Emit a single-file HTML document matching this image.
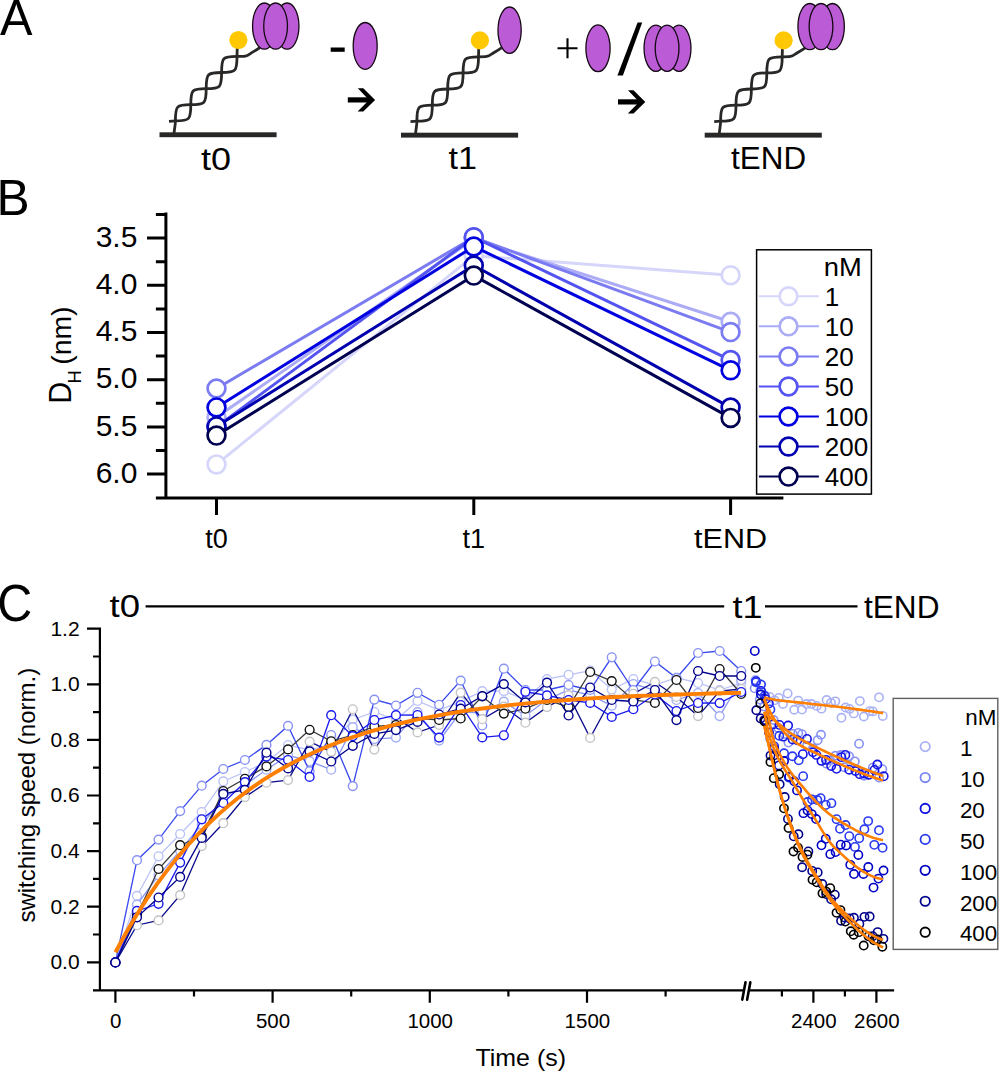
<!DOCTYPE html>
<html><head><meta charset="utf-8"><title>Figure</title>
<style>html,body{margin:0;padding:0;background:#fff;}svg{display:block;}text{font-family:"Liberation Sans",sans-serif;fill:#000;}</style>
</head><body>
<svg width="999" height="1072" viewBox="0 0 999 1072">
<rect width="999" height="1072" fill="#fff"/>
<text x="0" y="34.6" font-size="49.7" text-anchor="start" textLength="32.5" lengthAdjust="spacingAndGlyphs">A</text>
<path d="M174,134 C174.4,128 175.4,125.8 175.4,120.8 C175.4,105.83 176.48,104.7 190.8,104.7 C205.12,104.7 206.2,103.57 206.2,88.6 C206.2,73.63 207.28,72.5 221.6,72.5 C235.92,72.5 237,71.37 237,56.4 L237.3,46" fill="none" stroke="#292827" stroke-width="2.8"/>
<path d="M169,121.3 L175.4,120.8 C189.72,120.8 190.8,119.67 190.8,104.7 C190.8,89.73 191.88,88.6 206.2,88.6 C220.52,88.6 221.6,87.47 221.6,72.5 C221.6,57.53 222.68,56.4 237,56.4 C245,56.4 246,56.5 250,53.8 C252.5,52 255,51 260,47.5" fill="none" stroke="#292827" stroke-width="2.8"/>
<rect x="159.5" y="132.3" width="117.1" height="4.9" fill="#292827"/>
<circle cx="238.4" cy="40" r="9.1" fill="#FFC800"/>
<ellipse cx="264.4" cy="26.1" rx="11.85" ry="23.1" fill="#BB5BD5" stroke="#140814" stroke-width="1.3"/><ellipse cx="287.1" cy="26.1" rx="11.85" ry="23.1" fill="#BB5BD5" stroke="#140814" stroke-width="1.3"/><ellipse cx="275.6" cy="26.1" rx="11.85" ry="23.1" fill="#BB5BD5" stroke="#140814" stroke-width="1.3"/>
<path d="M415.5,134.4 C415.9,128.4 416.9,126.2 416.9,121.2 C416.9,106.23 417.98,105.1 432.3,105.1 C446.62,105.1 447.7,103.97 447.7,89 C447.7,74.03 448.78,72.9 463.1,72.9 C477.42,72.9 478.5,71.77 478.5,56.8 L478.8,46.4" fill="none" stroke="#292827" stroke-width="2.8"/>
<path d="M410.5,121.7 L416.9,121.2 C431.22,121.2 432.3,120.07 432.3,105.1 C432.3,90.13 433.38,89 447.7,89 C462.02,89 463.1,87.87 463.1,72.9 C463.1,57.93 464.18,56.8 478.5,56.8 C486.5,56.8 487.5,56.9 491.5,54.2 C494,52.4 496.5,51.4 501.5,47.9" fill="none" stroke="#292827" stroke-width="2.8"/>
<rect x="401" y="132.7" width="117.1" height="4.9" fill="#292827"/>
<circle cx="479.9" cy="40.4" r="9.1" fill="#FFC800"/>
<ellipse cx="509.6" cy="30.2" rx="11.6" ry="23.2" fill="#BB5BD5" stroke="#140814" stroke-width="1.3"/>
<path d="M719.2,134.4 C719.6,128.4 720.6,126.2 720.6,121.2 C720.6,106.23 721.68,105.1 736,105.1 C750.32,105.1 751.4,103.97 751.4,89 C751.4,74.03 752.48,72.9 766.8,72.9 C781.12,72.9 782.2,71.77 782.2,56.8 L782.5,46.4" fill="none" stroke="#292827" stroke-width="2.8"/>
<path d="M714.2,121.7 L720.6,121.2 C734.92,121.2 736,120.07 736,105.1 C736,90.13 737.08,89 751.4,89 C765.72,89 766.8,87.87 766.8,72.9 C766.8,57.93 767.88,56.8 782.2,56.8 C790.2,56.8 791.2,56.9 795.2,54.2 C797.7,52.4 800.2,51.4 805.2,47.9" fill="none" stroke="#292827" stroke-width="2.8"/>
<rect x="704.7" y="132.7" width="117.1" height="4.9" fill="#292827"/>
<circle cx="783.6" cy="40.4" r="9.1" fill="#FFC800"/>
<ellipse cx="809.8" cy="26.6" rx="11.85" ry="23.1" fill="#BB5BD5" stroke="#140814" stroke-width="1.3"/><ellipse cx="832.5" cy="26.6" rx="11.85" ry="23.1" fill="#BB5BD5" stroke="#140814" stroke-width="1.3"/><ellipse cx="821" cy="26.6" rx="11.85" ry="23.1" fill="#BB5BD5" stroke="#140814" stroke-width="1.3"/>
<rect x="330.7" y="47.5" width="14" height="4.3" fill="#000"/>
<ellipse cx="365.2" cy="45.9" rx="12" ry="23.4" fill="#BB5BD5" stroke="#140814" stroke-width="1.3"/>
<rect x="347.8" y="97.3" width="22" height="5.2" fill="#000"/><polygon points="357.8,88.3 363.3,88.3 375.1,100 363.3,111.6 357.6,111.6 369,100" fill="#000"/>
<path d="M557.5,48.3H577.5M567.5,38.3V58.3" stroke="#000" stroke-width="2.1"/>
<ellipse cx="598" cy="48.3" rx="12.1" ry="23.4" fill="#BB5BD5" stroke="#140814" stroke-width="1.3"/>
<polygon points="637.6,22.6 642.2,22.6 622.9,75.5 617.4,75.5" fill="#000"/>
<ellipse cx="655.9" cy="48.3" rx="11.85" ry="23.1" fill="#BB5BD5" stroke="#140814" stroke-width="1.3"/><ellipse cx="679.1" cy="48.3" rx="11.85" ry="23.1" fill="#BB5BD5" stroke="#140814" stroke-width="1.3"/><ellipse cx="667.1" cy="48.3" rx="11.85" ry="23.1" fill="#BB5BD5" stroke="#140814" stroke-width="1.3"/>
<rect x="618" y="99.3" width="22" height="5.2" fill="#000"/><polygon points="628,90.3 633.5,90.3 645.3,102 633.5,113.6 627.8,113.6 639.2,102" fill="#000"/>
<text x="201" y="169.5" font-size="31.5" text-anchor="start" textLength="30" lengthAdjust="spacingAndGlyphs">t0</text>
<text x="448.4" y="169" font-size="31.5" text-anchor="start" textLength="28.5" lengthAdjust="spacingAndGlyphs">t1</text>
<text x="731.1" y="169" font-size="31.5" text-anchor="start" textLength="75" lengthAdjust="spacingAndGlyphs">tEND</text>
<text x="-3.6" y="215.3" font-size="49.7" text-anchor="start" >B</text>
<path d="M165.9,212.6V499.4M155.9,498H783.4" stroke="#000" stroke-width="3" fill="none"/>
<path d="M147,238.1H165.9M147,285.3H165.9M147,332.5H165.9M147,379.7H165.9M147,426.9H165.9M147,474.1H165.9M155.9,214.5H165.9M155.9,261.7H165.9M155.9,308.9H165.9M155.9,356.1H165.9M155.9,403.3H165.9M155.9,450.5H165.9M216.5,498V515M473.8,498V515M730.6,498V515" stroke="#000" stroke-width="3" fill="none"/>
<text x="137.4" y="246.7" font-size="30" text-anchor="end" >3.5</text>
<text x="137.4" y="293.9" font-size="30" text-anchor="end" >4.0</text>
<text x="137.4" y="341.1" font-size="30" text-anchor="end" >4.5</text>
<text x="137.4" y="388.3" font-size="30" text-anchor="end" >5.0</text>
<text x="137.4" y="435.5" font-size="30" text-anchor="end" >5.5</text>
<text x="137.4" y="482.7" font-size="30" text-anchor="end" >6.0</text>
<text x="216.5" y="547.8" font-size="27" text-anchor="middle" >t0</text>
<text x="473.8" y="547.8" font-size="27" text-anchor="middle" >t1</text>
<text x="730.6" y="547.8" font-size="27" text-anchor="middle" textLength="73" lengthAdjust="spacingAndGlyphs">tEND</text>
<g transform="translate(70.6,0) rotate(-90)"><text x="-403.8" y="0" font-size="30.5">D</text><text x="-383.6" y="10.2" font-size="18.5">H</text><text x="-364.8" y="0" font-size="28.4">(nm)</text></g>
<polyline points="216.5,464.4 473.8,255.7 730.6,275.2" fill="none" stroke="#D6D6FA" stroke-width="3"/>
<circle cx="216.5" cy="464.4" r="8.9" fill="#fff" stroke="#D6D6FA" stroke-width="2.7"/>
<circle cx="473.8" cy="255.7" r="8.9" fill="#fff" stroke="#D6D6FA" stroke-width="2.7"/>
<circle cx="730.6" cy="275.2" r="8.9" fill="#fff" stroke="#D6D6FA" stroke-width="2.7"/>
<polyline points="216.5,417.2 473.8,239 730.6,321.8" fill="none" stroke="#ABABF6" stroke-width="3"/>
<circle cx="216.5" cy="417.2" r="8.9" fill="#fff" stroke="#ABABF6" stroke-width="2.7"/>
<circle cx="473.8" cy="239" r="8.9" fill="#fff" stroke="#ABABF6" stroke-width="2.7"/>
<circle cx="730.6" cy="321.8" r="8.9" fill="#fff" stroke="#ABABF6" stroke-width="2.7"/>
<polyline points="216.5,388.5 473.8,237.4 730.6,332.1" fill="none" stroke="#7C7CF2" stroke-width="3"/>
<circle cx="216.5" cy="388.5" r="8.9" fill="#fff" stroke="#7C7CF2" stroke-width="2.7"/>
<circle cx="473.8" cy="237.4" r="8.9" fill="#fff" stroke="#7C7CF2" stroke-width="2.7"/>
<circle cx="730.6" cy="332.1" r="8.9" fill="#fff" stroke="#7C7CF2" stroke-width="2.7"/>
<polyline points="216.5,426.9 473.8,237.2 730.6,360.1" fill="none" stroke="#5454F0" stroke-width="3"/>
<circle cx="216.5" cy="426.9" r="8.9" fill="#fff" stroke="#5454F0" stroke-width="2.7"/>
<circle cx="473.8" cy="237.2" r="8.9" fill="#fff" stroke="#5454F0" stroke-width="2.7"/>
<circle cx="730.6" cy="360.1" r="8.9" fill="#fff" stroke="#5454F0" stroke-width="2.7"/>
<polyline points="216.5,407.4 473.8,246.5 730.6,370.3" fill="none" stroke="#0000E0" stroke-width="3"/>
<circle cx="216.5" cy="407.4" r="8.9" fill="#fff" stroke="#0000E0" stroke-width="2.7"/>
<circle cx="473.8" cy="246.5" r="8.9" fill="#fff" stroke="#0000E0" stroke-width="2.7"/>
<circle cx="730.6" cy="370.3" r="8.9" fill="#fff" stroke="#0000E0" stroke-width="2.7"/>
<polyline points="216.5,426.4 473.8,265.5 730.6,407.6" fill="none" stroke="#0000B0" stroke-width="3"/>
<circle cx="216.5" cy="426.4" r="8.9" fill="#fff" stroke="#0000B0" stroke-width="2.7"/>
<circle cx="473.8" cy="265.5" r="8.9" fill="#fff" stroke="#0000B0" stroke-width="2.7"/>
<circle cx="730.6" cy="407.6" r="8.9" fill="#fff" stroke="#0000B0" stroke-width="2.7"/>
<polyline points="216.5,435.6 473.8,275.6 730.6,417.9" fill="none" stroke="#000050" stroke-width="3"/>
<circle cx="216.5" cy="435.6" r="8.9" fill="#fff" stroke="#000050" stroke-width="2.7"/>
<circle cx="473.8" cy="275.6" r="8.9" fill="#fff" stroke="#000050" stroke-width="2.7"/>
<circle cx="730.6" cy="417.9" r="8.9" fill="#fff" stroke="#000050" stroke-width="2.7"/>
<rect x="756.6" y="249.8" width="114.8" height="244.3" fill="#fff" stroke="#000" stroke-width="1.5"/>
<text x="823.8" y="275.7" font-size="25" text-anchor="start" textLength="38" lengthAdjust="spacingAndGlyphs">nM</text>
<path d="M758.9,296.3H818.9" stroke="#D6D6FA" stroke-width="2"/>
<circle cx="788.5" cy="296.3" r="8.9" fill="#fff" stroke="#D6D6FA" stroke-width="2.7"/>
<text x="824.8" y="305.5" font-size="26" text-anchor="start" >1</text>
<path d="M758.9,326.35H818.9" stroke="#ABABF6" stroke-width="2"/>
<circle cx="788.5" cy="326.35" r="8.9" fill="#fff" stroke="#ABABF6" stroke-width="2.7"/>
<text x="824.8" y="335.55" font-size="26" text-anchor="start" >10</text>
<path d="M758.9,356.4H818.9" stroke="#7C7CF2" stroke-width="2"/>
<circle cx="788.5" cy="356.4" r="8.9" fill="#fff" stroke="#7C7CF2" stroke-width="2.7"/>
<text x="824.8" y="365.6" font-size="26" text-anchor="start" >20</text>
<path d="M758.9,386.45H818.9" stroke="#5454F0" stroke-width="2"/>
<circle cx="788.5" cy="386.45" r="8.9" fill="#fff" stroke="#5454F0" stroke-width="2.7"/>
<text x="824.8" y="395.65" font-size="26" text-anchor="start" >50</text>
<path d="M758.9,416.5H818.9" stroke="#0000E0" stroke-width="2"/>
<circle cx="788.5" cy="416.5" r="8.9" fill="#fff" stroke="#0000E0" stroke-width="2.7"/>
<text x="824.8" y="425.7" font-size="26" text-anchor="start" >100</text>
<path d="M758.9,446.55H818.9" stroke="#0000B0" stroke-width="2"/>
<circle cx="788.5" cy="446.55" r="8.9" fill="#fff" stroke="#0000B0" stroke-width="2.7"/>
<text x="824.8" y="455.75" font-size="26" text-anchor="start" >200</text>
<path d="M758.9,476.6H818.9" stroke="#000050" stroke-width="2"/>
<circle cx="788.5" cy="476.6" r="8.9" fill="#fff" stroke="#000050" stroke-width="2.7"/>
<text x="824.8" y="485.8" font-size="26" text-anchor="start" >400</text>
<text x="-2.8" y="620.6" font-size="51" text-anchor="start" textLength="35" lengthAdjust="spacingAndGlyphs">C</text>
<text x="109.6" y="617" font-size="31.5" text-anchor="start" textLength="30.5" lengthAdjust="spacingAndGlyphs">t0</text>
<text x="732.5" y="617.5" font-size="31.5" text-anchor="start" textLength="30" lengthAdjust="spacingAndGlyphs">t1</text>
<text x="864" y="617.5" font-size="31.5" text-anchor="start" textLength="75.5" lengthAdjust="spacingAndGlyphs">tEND</text>
<path d="M145.6,606.3H724.2M765,606.3H857.5" stroke="#000" stroke-width="2.2"/>
<path d="M99.9,627.6V991.4M93,990.3H743.6M750,990.3H894.1M87,962.3H99.9M87,906.7H99.9M87,851.1H99.9M87,795.5H99.9M87,739.9H99.9M87,684.3H99.9M87,628.7H99.9M93,934.5H99.9M93,878.9H99.9M93,823.3H99.9M93,767.7H99.9M93,712.1H99.9M93,656.5H99.9M115.4,990.3V1002.8M272.6,990.3V1002.8M429.8,990.3V1002.8M587,990.3V1002.8M813.4,990.3V1002.8M876.4,990.3V1002.8M194,990.3V996.5M351.2,990.3V996.5M508.4,990.3V996.5M665.6,990.3V996.5M781.9,990.3V996.5M844.9,990.3V996.5" stroke="#000" stroke-width="2.2" fill="none"/>
<path d="M745.5,982.2L742.3,999.6M750.3,982.4L747.1,999.8" stroke="#000" stroke-width="2.6" stroke-linecap="round"/>
<text x="79.6" y="969.1" font-size="21" text-anchor="end" >0.0</text>
<text x="79.6" y="913.5" font-size="21" text-anchor="end" >0.2</text>
<text x="79.6" y="857.9" font-size="21" text-anchor="end" >0.4</text>
<text x="79.6" y="802.3" font-size="21" text-anchor="end" >0.6</text>
<text x="79.6" y="746.7" font-size="21" text-anchor="end" >0.8</text>
<text x="79.6" y="691.1" font-size="21" text-anchor="end" >1.0</text>
<text x="79.6" y="635.5" font-size="21" text-anchor="end" >1.2</text>
<text x="115.8" y="1027.8" font-size="20.5" text-anchor="middle" >0</text>
<text x="273" y="1027.8" font-size="20.5" text-anchor="middle" >500</text>
<text x="430.2" y="1027.8" font-size="20.5" text-anchor="middle" >1000</text>
<text x="587.4" y="1027.8" font-size="20.5" text-anchor="middle" >1500</text>
<text x="813.8" y="1027.8" font-size="20.5" text-anchor="middle" >2400</text>
<text x="876.8" y="1027.8" font-size="20.5" text-anchor="middle" >2600</text>
<text x="475.5" y="1066.2" font-size="24" text-anchor="start" textLength="90.5" lengthAdjust="spacingAndGlyphs">Time (s)</text>
<g transform="translate(35.4,922.6) rotate(-90)"><text x="0" y="0" font-size="24">switching speed (norm.)</text></g>
<polyline points="115.4,962.4 136.98,895.9 158.56,856.3 180.14,834 201.72,812 223.3,781.4 244.88,772 266.46,762 288.04,745 309.62,750 331.2,745 352.78,719.7 374.36,712 395.94,720 417.52,701 439.1,710 460.68,701.7 482.26,691.1 503.84,691.1 525.42,700 547,679.2 568.58,674.8 590.16,670.6 611.74,689.6 633.32,679 654.9,685 676.48,677.6 698.06,683 719.64,690 741.22,683" fill="none" stroke="#BAC2F8" stroke-width="1.3"/>
<g fill="#fff" stroke="#BAC2F8" stroke-width="1.4"><circle cx="115.4" cy="962.4" r="4.4"/><circle cx="136.98" cy="895.9" r="4.4"/><circle cx="158.56" cy="856.3" r="4.4"/><circle cx="180.14" cy="834" r="4.4"/><circle cx="201.72" cy="812" r="4.4"/><circle cx="223.3" cy="781.4" r="4.4"/><circle cx="244.88" cy="772" r="4.4"/><circle cx="266.46" cy="762" r="4.4"/><circle cx="288.04" cy="745" r="4.4"/><circle cx="309.62" cy="750" r="4.4"/><circle cx="331.2" cy="745" r="4.4"/><circle cx="352.78" cy="719.7" r="4.4"/><circle cx="374.36" cy="712" r="4.4"/><circle cx="395.94" cy="720" r="4.4"/><circle cx="417.52" cy="701" r="4.4"/><circle cx="439.1" cy="710" r="4.4"/><circle cx="460.68" cy="701.7" r="4.4"/><circle cx="482.26" cy="691.1" r="4.4"/><circle cx="503.84" cy="691.1" r="4.4"/><circle cx="525.42" cy="700" r="4.4"/><circle cx="547" cy="679.2" r="4.4"/><circle cx="568.58" cy="674.8" r="4.4"/><circle cx="590.16" cy="670.6" r="4.4"/><circle cx="611.74" cy="689.6" r="4.4"/><circle cx="633.32" cy="679" r="4.4"/><circle cx="654.9" cy="685" r="4.4"/><circle cx="676.48" cy="677.6" r="4.4"/><circle cx="698.06" cy="683" r="4.4"/><circle cx="719.64" cy="690" r="4.4"/><circle cx="741.22" cy="683" r="4.4"/></g>
<polyline points="115.4,962.4 136.98,904.6 158.56,875.3 180.14,850.7 201.72,824.5 223.3,798 244.88,785 266.46,769.7 288.04,755.3 309.62,761.2 331.2,769.7 352.78,727.2 374.36,739.1 395.94,737.6 417.52,712.2 439.1,740.6 460.68,712 482.26,712.9 503.84,701.7 525.42,715.7 547,699.6 568.58,690 590.16,695 611.74,705.7 633.32,684 654.9,690 676.48,700 698.06,693 719.64,716.1 741.22,680" fill="none" stroke="#8A96F4" stroke-width="1.3"/>
<g fill="#fff" stroke="#A4AEF6" stroke-width="1.4"><circle cx="115.4" cy="962.4" r="4.4"/><circle cx="136.98" cy="904.6" r="4.4"/><circle cx="158.56" cy="875.3" r="4.4"/><circle cx="180.14" cy="850.7" r="4.4"/><circle cx="201.72" cy="824.5" r="4.4"/><circle cx="223.3" cy="798" r="4.4"/><circle cx="244.88" cy="785" r="4.4"/><circle cx="266.46" cy="769.7" r="4.4"/><circle cx="288.04" cy="755.3" r="4.4"/><circle cx="309.62" cy="761.2" r="4.4"/><circle cx="331.2" cy="769.7" r="4.4"/><circle cx="352.78" cy="727.2" r="4.4"/><circle cx="374.36" cy="739.1" r="4.4"/><circle cx="395.94" cy="737.6" r="4.4"/><circle cx="417.52" cy="712.2" r="4.4"/><circle cx="439.1" cy="740.6" r="4.4"/><circle cx="460.68" cy="712" r="4.4"/><circle cx="482.26" cy="712.9" r="4.4"/><circle cx="503.84" cy="701.7" r="4.4"/><circle cx="525.42" cy="715.7" r="4.4"/><circle cx="547" cy="699.6" r="4.4"/><circle cx="568.58" cy="690" r="4.4"/><circle cx="590.16" cy="695" r="4.4"/><circle cx="611.74" cy="705.7" r="4.4"/><circle cx="633.32" cy="684" r="4.4"/><circle cx="654.9" cy="690" r="4.4"/><circle cx="676.48" cy="700" r="4.4"/><circle cx="698.06" cy="693" r="4.4"/><circle cx="719.64" cy="716.1" r="4.4"/><circle cx="741.22" cy="680" r="4.4"/></g>
<polyline points="115.4,962.4 136.98,860.2 158.56,839.6 180.14,811.1 201.72,785.7 223.3,769 244.88,760 266.46,744.9 288.04,725.9 309.62,771.2 331.2,735 352.78,786.1 374.36,699.6 395.94,705.5 417.52,692.8 439.1,704.8 460.68,680.6 482.26,725.5 503.84,668.7 525.42,690 547,690 568.58,685 590.16,690 611.74,657.3 633.32,690 654.9,661.5 676.48,678 698.06,653 719.64,651 741.22,671" fill="none" stroke="#3848EE" stroke-width="1.3"/>
<g fill="#fff" stroke="#8892F4" stroke-width="1.4"><circle cx="115.4" cy="962.4" r="4.4"/><circle cx="136.98" cy="860.2" r="4.4"/><circle cx="158.56" cy="839.6" r="4.4"/><circle cx="180.14" cy="811.1" r="4.4"/><circle cx="201.72" cy="785.7" r="4.4"/><circle cx="223.3" cy="769" r="4.4"/><circle cx="244.88" cy="760" r="4.4"/><circle cx="266.46" cy="744.9" r="4.4"/><circle cx="288.04" cy="725.9" r="4.4"/><circle cx="309.62" cy="771.2" r="4.4"/><circle cx="331.2" cy="735" r="4.4"/><circle cx="352.78" cy="786.1" r="4.4"/><circle cx="374.36" cy="699.6" r="4.4"/><circle cx="395.94" cy="705.5" r="4.4"/><circle cx="417.52" cy="692.8" r="4.4"/><circle cx="439.1" cy="704.8" r="4.4"/><circle cx="460.68" cy="680.6" r="4.4"/><circle cx="482.26" cy="725.5" r="4.4"/><circle cx="503.84" cy="668.7" r="4.4"/><circle cx="525.42" cy="690" r="4.4"/><circle cx="547" cy="690" r="4.4"/><circle cx="568.58" cy="685" r="4.4"/><circle cx="590.16" cy="690" r="4.4"/><circle cx="611.74" cy="657.3" r="4.4"/><circle cx="633.32" cy="690" r="4.4"/><circle cx="654.9" cy="661.5" r="4.4"/><circle cx="676.48" cy="678" r="4.4"/><circle cx="698.06" cy="653" r="4.4"/><circle cx="719.64" cy="651" r="4.4"/><circle cx="741.22" cy="671" r="4.4"/></g>
<polyline points="115.4,962.4 136.98,925.2 158.56,920.4 180.14,895.1 201.72,846.1 223.3,823.2 244.88,797.1 266.46,782.7 288.04,780.1 309.62,741.6 331.2,751.8 352.78,709.3 374.36,749.6 395.94,717.5 417.52,732.4 439.1,725 460.68,692.6 482.26,719.2 503.84,706.6 525.42,722.7 547,707.1 568.58,695.2 590.16,737.9 611.74,698 633.32,693.8 654.9,681.9 676.48,697 698.06,716.1 719.64,691 741.22,689" fill="none" stroke="#0A0A8C" stroke-width="1.3"/>
<g fill="#fff" stroke="#C4C4C4" stroke-width="1.4"><circle cx="115.4" cy="962.4" r="4.4"/><circle cx="136.98" cy="925.2" r="4.4"/><circle cx="158.56" cy="920.4" r="4.4"/><circle cx="180.14" cy="895.1" r="4.4"/><circle cx="201.72" cy="846.1" r="4.4"/><circle cx="223.3" cy="823.2" r="4.4"/><circle cx="244.88" cy="797.1" r="4.4"/><circle cx="266.46" cy="782.7" r="4.4"/><circle cx="288.04" cy="780.1" r="4.4"/><circle cx="309.62" cy="741.6" r="4.4"/><circle cx="331.2" cy="751.8" r="4.4"/><circle cx="352.78" cy="709.3" r="4.4"/><circle cx="374.36" cy="749.6" r="4.4"/><circle cx="395.94" cy="717.5" r="4.4"/><circle cx="417.52" cy="732.4" r="4.4"/><circle cx="439.1" cy="725" r="4.4"/><circle cx="460.68" cy="692.6" r="4.4"/><circle cx="482.26" cy="719.2" r="4.4"/><circle cx="503.84" cy="706.6" r="4.4"/><circle cx="525.42" cy="722.7" r="4.4"/><circle cx="547" cy="707.1" r="4.4"/><circle cx="568.58" cy="695.2" r="4.4"/><circle cx="590.16" cy="737.9" r="4.4"/><circle cx="611.74" cy="698" r="4.4"/><circle cx="633.32" cy="693.8" r="4.4"/><circle cx="654.9" cy="681.9" r="4.4"/><circle cx="676.48" cy="697" r="4.4"/><circle cx="698.06" cy="716.1" r="4.4"/><circle cx="719.64" cy="691" r="4.4"/><circle cx="741.22" cy="689" r="4.4"/></g>
<polyline points="115.4,962.4 136.98,915 158.56,869 180.14,845.2 201.72,836 223.3,791 244.88,778.8 266.46,766.4 288.04,749.4 309.62,729.8 331.2,741.3 352.78,735 374.36,726.4 395.94,725 417.52,718 439.1,720 460.68,718.5 482.26,696.5 503.84,713.6 525.42,708.7 547,700 568.58,707.1 590.16,672 611.74,681.1 633.32,700 654.9,702.9 676.48,680 698.06,708 719.64,669 741.22,694" fill="none" stroke="#3A3A3A" stroke-width="1.3"/>
<g fill="#fff" stroke="#111111" stroke-width="1.4"><circle cx="115.4" cy="962.4" r="4.4"/><circle cx="136.98" cy="915" r="4.4"/><circle cx="158.56" cy="869" r="4.4"/><circle cx="180.14" cy="845.2" r="4.4"/><circle cx="201.72" cy="836" r="4.4"/><circle cx="223.3" cy="791" r="4.4"/><circle cx="244.88" cy="778.8" r="4.4"/><circle cx="266.46" cy="766.4" r="4.4"/><circle cx="288.04" cy="749.4" r="4.4"/><circle cx="309.62" cy="729.8" r="4.4"/><circle cx="331.2" cy="741.3" r="4.4"/><circle cx="352.78" cy="735" r="4.4"/><circle cx="374.36" cy="726.4" r="4.4"/><circle cx="395.94" cy="725" r="4.4"/><circle cx="417.52" cy="718" r="4.4"/><circle cx="439.1" cy="720" r="4.4"/><circle cx="460.68" cy="718.5" r="4.4"/><circle cx="482.26" cy="696.5" r="4.4"/><circle cx="503.84" cy="713.6" r="4.4"/><circle cx="525.42" cy="708.7" r="4.4"/><circle cx="547" cy="700" r="4.4"/><circle cx="568.58" cy="707.1" r="4.4"/><circle cx="590.16" cy="672" r="4.4"/><circle cx="611.74" cy="681.1" r="4.4"/><circle cx="633.32" cy="700" r="4.4"/><circle cx="654.9" cy="702.9" r="4.4"/><circle cx="676.48" cy="680" r="4.4"/><circle cx="698.06" cy="708" r="4.4"/><circle cx="719.64" cy="669" r="4.4"/><circle cx="741.22" cy="694" r="4.4"/></g>
<polyline points="115.4,962.4 136.98,910.9 158.56,903.8 180.14,862.6 201.72,819.3 223.3,803 244.88,782.1 266.46,756.6 288.04,760 309.62,776.9 331.2,715.2 352.78,736.1 374.36,720 395.94,715.2 417.52,715 439.1,737.6 460.68,705 482.26,737.4 503.84,735.3 525.42,691.8 547,695.4 568.58,700 590.16,702.9 611.74,716.9 633.32,709.2 654.9,694.5 676.48,711 698.06,703 719.64,703.1 741.22,692" fill="none" stroke="#1818F0" stroke-width="1.3"/>
<g fill="#fff" stroke="#1818F0" stroke-width="1.4"><circle cx="115.4" cy="962.4" r="4.4"/><circle cx="136.98" cy="910.9" r="4.4"/><circle cx="158.56" cy="903.8" r="4.4"/><circle cx="180.14" cy="862.6" r="4.4"/><circle cx="201.72" cy="819.3" r="4.4"/><circle cx="223.3" cy="803" r="4.4"/><circle cx="244.88" cy="782.1" r="4.4"/><circle cx="266.46" cy="756.6" r="4.4"/><circle cx="288.04" cy="760" r="4.4"/><circle cx="309.62" cy="776.9" r="4.4"/><circle cx="331.2" cy="715.2" r="4.4"/><circle cx="352.78" cy="736.1" r="4.4"/><circle cx="374.36" cy="720" r="4.4"/><circle cx="395.94" cy="715.2" r="4.4"/><circle cx="417.52" cy="715" r="4.4"/><circle cx="439.1" cy="737.6" r="4.4"/><circle cx="460.68" cy="705" r="4.4"/><circle cx="482.26" cy="737.4" r="4.4"/><circle cx="503.84" cy="735.3" r="4.4"/><circle cx="525.42" cy="691.8" r="4.4"/><circle cx="547" cy="695.4" r="4.4"/><circle cx="568.58" cy="700" r="4.4"/><circle cx="590.16" cy="702.9" r="4.4"/><circle cx="611.74" cy="716.9" r="4.4"/><circle cx="633.32" cy="709.2" r="4.4"/><circle cx="654.9" cy="694.5" r="4.4"/><circle cx="676.48" cy="711" r="4.4"/><circle cx="698.06" cy="703" r="4.4"/><circle cx="719.64" cy="703.1" r="4.4"/><circle cx="741.22" cy="692" r="4.4"/></g>
<polyline points="115.4,962.4 136.98,917.3 158.56,897.5 180.14,876.9 201.72,837.9 223.3,793.9 244.88,789.9 266.46,752.7 288.04,768.4 309.62,751.4 331.2,761.5 352.78,745.8 374.36,733.9 395.94,730.1 417.52,721.9 439.1,714.5 460.68,708.7 482.26,696.1 503.84,684.1 525.42,702.4 547,682.7 568.58,715.5 590.16,687.5 611.74,700 633.32,701.5 654.9,690 676.48,720.1 698.06,671 719.64,676 741.22,676" fill="none" stroke="#00008C" stroke-width="1.3"/>
<g fill="#fff" stroke="#00008C" stroke-width="1.4"><circle cx="115.4" cy="962.4" r="4.4"/><circle cx="136.98" cy="917.3" r="4.4"/><circle cx="158.56" cy="897.5" r="4.4"/><circle cx="180.14" cy="876.9" r="4.4"/><circle cx="201.72" cy="837.9" r="4.4"/><circle cx="223.3" cy="793.9" r="4.4"/><circle cx="244.88" cy="789.9" r="4.4"/><circle cx="266.46" cy="752.7" r="4.4"/><circle cx="288.04" cy="768.4" r="4.4"/><circle cx="309.62" cy="751.4" r="4.4"/><circle cx="331.2" cy="761.5" r="4.4"/><circle cx="352.78" cy="745.8" r="4.4"/><circle cx="374.36" cy="733.9" r="4.4"/><circle cx="395.94" cy="730.1" r="4.4"/><circle cx="417.52" cy="721.9" r="4.4"/><circle cx="439.1" cy="714.5" r="4.4"/><circle cx="460.68" cy="708.7" r="4.4"/><circle cx="482.26" cy="696.1" r="4.4"/><circle cx="503.84" cy="684.1" r="4.4"/><circle cx="525.42" cy="702.4" r="4.4"/><circle cx="547" cy="682.7" r="4.4"/><circle cx="568.58" cy="715.5" r="4.4"/><circle cx="590.16" cy="687.5" r="4.4"/><circle cx="611.74" cy="700" r="4.4"/><circle cx="633.32" cy="701.5" r="4.4"/><circle cx="654.9" cy="690" r="4.4"/><circle cx="676.48" cy="720.1" r="4.4"/><circle cx="698.06" cy="671" r="4.4"/><circle cx="719.64" cy="676" r="4.4"/><circle cx="741.22" cy="676" r="4.4"/></g>
<polyline points="115.4,952.26 125.83,933.21 136.26,915.54 146.68,899.15 157.11,883.96 167.54,869.86 177.97,856.8 188.39,844.68 198.82,833.44 209.25,823.02 219.68,813.35 230.1,804.39 240.53,796.08 250.96,788.37 261.39,781.22 271.81,774.6 282.24,768.45 292.67,762.75 303.1,757.46 313.52,752.56 323.95,748.02 334.38,743.8 344.81,739.89 355.23,736.27 365.66,732.91 376.09,729.79 386.52,726.9 396.95,724.22 407.37,721.73 417.8,719.43 428.23,717.29 438.66,715.3 449.08,713.47 459.51,711.76 469.94,710.18 480.37,708.71 490.79,707.35 501.22,706.09 511.65,704.92 522.08,703.84 532.5,702.83 542.93,701.9 553.36,701.04 563.79,700.23 574.21,699.49 584.64,698.8 595.07,698.16 605.5,697.57 615.92,697.02 626.35,696.51 636.78,696.04 647.21,695.6 657.64,695.19 668.06,694.81 678.49,694.46 688.92,694.14 699.35,693.84 709.77,693.56 720.2,693.3 730.63,693.06 741.06,692.84" fill="none" stroke="#FF7F00" stroke-width="3.9"/>
<g fill="none" stroke="#AAB2F6" stroke-width="1.6"><circle cx="755.4" cy="680.02" r="4.15"/><circle cx="760.15" cy="690.74" r="4.15"/><circle cx="764.96" cy="695.37" r="4.15"/><circle cx="769.68" cy="696.92" r="4.15"/><circle cx="774.64" cy="700.37" r="4.15"/><circle cx="778.71" cy="697.97" r="4.15"/><circle cx="783" cy="703.94" r="4.15"/><circle cx="787.62" cy="693.45" r="4.15"/><circle cx="794.22" cy="709.77" r="4.15"/><circle cx="798.21" cy="700.62" r="4.15"/><circle cx="802.01" cy="709.57" r="4.15"/><circle cx="806.54" cy="704.03" r="4.15"/><circle cx="811.52" cy="704.02" r="4.15"/><circle cx="816.79" cy="705.88" r="4.15"/><circle cx="821.46" cy="708.67" r="4.15"/><circle cx="826.58" cy="700" r="4.15"/><circle cx="831.02" cy="702.87" r="4.15"/><circle cx="835.3" cy="701.35" r="4.15"/><circle cx="841.46" cy="717.81" r="4.15"/><circle cx="845.6" cy="707.52" r="4.15"/><circle cx="849.53" cy="708.9" r="4.15"/><circle cx="853.76" cy="713.38" r="4.15"/><circle cx="859.87" cy="701.08" r="4.15"/><circle cx="863.83" cy="716.5" r="4.15"/><circle cx="869.7" cy="711.21" r="4.15"/><circle cx="872.92" cy="711.42" r="4.15"/><circle cx="879.04" cy="697.34" r="4.15"/><circle cx="882.73" cy="715.93" r="4.15"/></g>
<g fill="none" stroke="#8892F4" stroke-width="1.6"><circle cx="754.65" cy="688.37" r="4.15"/><circle cx="759.76" cy="699.54" r="4.15"/><circle cx="764.11" cy="706.56" r="4.15"/><circle cx="770.18" cy="738.65" r="4.15"/><circle cx="773.62" cy="719.99" r="4.15"/><circle cx="778.22" cy="727.89" r="4.15"/><circle cx="784.41" cy="733.89" r="4.15"/><circle cx="788.43" cy="742.56" r="4.15"/><circle cx="792.64" cy="733.95" r="4.15"/><circle cx="798.27" cy="732.92" r="4.15"/><circle cx="801.93" cy="734.19" r="4.15"/><circle cx="806.96" cy="745.76" r="4.15"/><circle cx="813.08" cy="748.33" r="4.15"/><circle cx="817.63" cy="740.22" r="4.15"/><circle cx="821" cy="734.8" r="4.15"/><circle cx="826.58" cy="763.64" r="4.15"/><circle cx="830.22" cy="760.41" r="4.15"/><circle cx="835.26" cy="755.75" r="4.15"/><circle cx="841.01" cy="755.02" r="4.15"/><circle cx="844.33" cy="767.31" r="4.15"/><circle cx="849.08" cy="756.25" r="4.15"/><circle cx="854.82" cy="761.36" r="4.15"/><circle cx="859.08" cy="743.69" r="4.15"/><circle cx="864.03" cy="775.68" r="4.15"/><circle cx="868.93" cy="774.71" r="4.15"/><circle cx="872.81" cy="767.7" r="4.15"/><circle cx="879.04" cy="777.5" r="4.15"/><circle cx="882.32" cy="769.17" r="4.15"/></g>
<g fill="none" stroke="#1414E6" stroke-width="1.6"><circle cx="755.98" cy="681.13" r="4.15"/><circle cx="761.12" cy="690.92" r="4.15"/><circle cx="765.7" cy="699.1" r="4.15"/><circle cx="768.87" cy="703.59" r="4.15"/><circle cx="773.46" cy="724.24" r="4.15"/><circle cx="779.51" cy="724.92" r="4.15"/><circle cx="783.33" cy="736.67" r="4.15"/><circle cx="788.13" cy="725.55" r="4.15"/><circle cx="792.61" cy="739.61" r="4.15"/><circle cx="797.44" cy="740.24" r="4.15"/><circle cx="802.82" cy="754.21" r="4.15"/><circle cx="806.98" cy="738.97" r="4.15"/><circle cx="812.97" cy="752.23" r="4.15"/><circle cx="816.4" cy="754.91" r="4.15"/><circle cx="821.47" cy="760.9" r="4.15"/><circle cx="826.04" cy="759.9" r="4.15"/><circle cx="831.16" cy="765.96" r="4.15"/><circle cx="836.52" cy="768.87" r="4.15"/><circle cx="841.42" cy="757.13" r="4.15"/><circle cx="845.35" cy="754.93" r="4.15"/><circle cx="849.18" cy="769.72" r="4.15"/><circle cx="855.44" cy="770.99" r="4.15"/><circle cx="859.74" cy="774.13" r="4.15"/><circle cx="864.33" cy="773.63" r="4.15"/><circle cx="868.74" cy="774.72" r="4.15"/><circle cx="874.5" cy="769.88" r="4.15"/><circle cx="877.37" cy="764.57" r="4.15"/><circle cx="883.74" cy="776.3" r="4.15"/></g>
<g fill="none" stroke="#2A3AF0" stroke-width="1.6"><circle cx="755.97" cy="682.27" r="4.15"/><circle cx="761.05" cy="684.56" r="4.15"/><circle cx="764.64" cy="696.07" r="4.15"/><circle cx="770.4" cy="709.45" r="4.15"/><circle cx="774.21" cy="746.32" r="4.15"/><circle cx="779.25" cy="735.76" r="4.15"/><circle cx="784.07" cy="753.32" r="4.15"/><circle cx="788.76" cy="777.47" r="4.15"/><circle cx="792.42" cy="756.23" r="4.15"/><circle cx="798.74" cy="760.33" r="4.15"/><circle cx="803.16" cy="776.13" r="4.15"/><circle cx="807.58" cy="801.98" r="4.15"/><circle cx="812.02" cy="799.51" r="4.15"/><circle cx="817.36" cy="799.98" r="4.15"/><circle cx="820.64" cy="798.13" r="4.15"/><circle cx="825.76" cy="804.95" r="4.15"/><circle cx="831.42" cy="803.13" r="4.15"/><circle cx="836.58" cy="819.22" r="4.15"/><circle cx="839.97" cy="828.72" r="4.15"/><circle cx="845.54" cy="825.05" r="4.15"/><circle cx="849.31" cy="836.17" r="4.15"/><circle cx="854.94" cy="846.92" r="4.15"/><circle cx="859.22" cy="838.2" r="4.15"/><circle cx="864.39" cy="829.31" r="4.15"/><circle cx="868.18" cy="821.11" r="4.15"/><circle cx="874.33" cy="844.86" r="4.15"/><circle cx="878.98" cy="830.32" r="4.15"/><circle cx="882.57" cy="847.82" r="4.15"/></g>
<g fill="none" stroke="#0000C4" stroke-width="1.6"><circle cx="754.77" cy="650.96" r="4.15"/><circle cx="760.92" cy="694.52" r="4.15"/><circle cx="765.36" cy="720.34" r="4.15"/><circle cx="769" cy="732.62" r="4.15"/><circle cx="774.28" cy="748.94" r="4.15"/><circle cx="778.93" cy="765.45" r="4.15"/><circle cx="784.07" cy="761.05" r="4.15"/><circle cx="789.22" cy="776.69" r="4.15"/><circle cx="794.22" cy="781.32" r="4.15"/><circle cx="797.04" cy="790.41" r="4.15"/><circle cx="803.45" cy="813.16" r="4.15"/><circle cx="807.56" cy="810.43" r="4.15"/><circle cx="811.76" cy="814.11" r="4.15"/><circle cx="816.13" cy="819.06" r="4.15"/><circle cx="821.49" cy="845.32" r="4.15"/><circle cx="825.77" cy="838.78" r="4.15"/><circle cx="830.3" cy="854.16" r="4.15"/><circle cx="835.63" cy="852.08" r="4.15"/><circle cx="840.72" cy="844.68" r="4.15"/><circle cx="846.1" cy="845.45" r="4.15"/><circle cx="850.27" cy="864.84" r="4.15"/><circle cx="853.98" cy="874.03" r="4.15"/><circle cx="858.36" cy="854.94" r="4.15"/><circle cx="863.42" cy="873.95" r="4.15"/><circle cx="868.32" cy="866.98" r="4.15"/><circle cx="873.54" cy="887.6" r="4.15"/><circle cx="878.45" cy="878.6" r="4.15"/><circle cx="883.52" cy="870.51" r="4.15"/></g>
<g fill="none" stroke="#00008C" stroke-width="1.6"><circle cx="756.31" cy="710.25" r="4.15"/><circle cx="760.66" cy="718.44" r="4.15"/><circle cx="764.2" cy="720.08" r="4.15"/><circle cx="770.48" cy="755.6" r="4.15"/><circle cx="774.13" cy="755.27" r="4.15"/><circle cx="779.69" cy="784.3" r="4.15"/><circle cx="784.71" cy="797.06" r="4.15"/><circle cx="787.95" cy="818.91" r="4.15"/><circle cx="793.7" cy="836.33" r="4.15"/><circle cx="798.42" cy="834.31" r="4.15"/><circle cx="802.13" cy="867.27" r="4.15"/><circle cx="808.37" cy="851.39" r="4.15"/><circle cx="812.21" cy="870.93" r="4.15"/><circle cx="817.68" cy="872.4" r="4.15"/><circle cx="822.29" cy="884.07" r="4.15"/><circle cx="826.18" cy="894.03" r="4.15"/><circle cx="831.12" cy="899.32" r="4.15"/><circle cx="834.8" cy="894.64" r="4.15"/><circle cx="841.08" cy="920.73" r="4.15"/><circle cx="844.53" cy="917.56" r="4.15"/><circle cx="849.57" cy="918.43" r="4.15"/><circle cx="853.92" cy="917.77" r="4.15"/><circle cx="859.37" cy="923.95" r="4.15"/><circle cx="864.44" cy="916.84" r="4.15"/><circle cx="869.67" cy="916.51" r="4.15"/><circle cx="872.67" cy="936.14" r="4.15"/><circle cx="877.66" cy="932.11" r="4.15"/><circle cx="883.4" cy="938.83" r="4.15"/></g>
<g fill="none" stroke="#000000" stroke-width="1.6"><circle cx="755.78" cy="667.86" r="4.15"/><circle cx="760.34" cy="703.4" r="4.15"/><circle cx="764.56" cy="721.42" r="4.15"/><circle cx="770.46" cy="762.01" r="4.15"/><circle cx="773.8" cy="778.16" r="4.15"/><circle cx="779.15" cy="774.25" r="4.15"/><circle cx="783.97" cy="808.37" r="4.15"/><circle cx="788.55" cy="827.98" r="4.15"/><circle cx="793.47" cy="851.49" r="4.15"/><circle cx="798.01" cy="847.65" r="4.15"/><circle cx="802.5" cy="856.99" r="4.15"/><circle cx="807.4" cy="854.69" r="4.15"/><circle cx="812.52" cy="879.84" r="4.15"/><circle cx="816.69" cy="882.33" r="4.15"/><circle cx="822.49" cy="893.26" r="4.15"/><circle cx="826.25" cy="891.61" r="4.15"/><circle cx="830.27" cy="888.18" r="4.15"/><circle cx="836.54" cy="912.84" r="4.15"/><circle cx="840.41" cy="910.09" r="4.15"/><circle cx="845.42" cy="921.57" r="4.15"/><circle cx="850.75" cy="931.32" r="4.15"/><circle cx="853.67" cy="934.71" r="4.15"/><circle cx="858.73" cy="932.17" r="4.15"/><circle cx="863.7" cy="945.55" r="4.15"/><circle cx="868.49" cy="936.36" r="4.15"/><circle cx="873.96" cy="940.3" r="4.15"/><circle cx="877.47" cy="939.33" r="4.15"/><circle cx="882.34" cy="946.72" r="4.15"/></g>
<polyline points="764.3,697.32 766.28,697.92 768.26,698.42 770.24,698.88 772.22,699.28 774.2,699.64 776.18,699.96 778.16,700.25 780.14,700.51 782.12,700.75 784.1,700.96 786.08,701.17 788.06,701.36 790.04,701.55 792.02,701.74 794,701.93 795.98,702.13 797.96,702.35 799.94,702.59 801.92,702.84 803.9,703.08 805.88,703.31 807.86,703.54 809.84,703.77 811.82,703.99 813.8,704.2 815.78,704.41 817.76,704.63 819.74,704.84 821.72,705.05 823.7,705.26 825.68,705.47 827.66,705.68 829.64,705.9 831.62,706.12 833.6,706.34 835.58,706.57 837.56,706.8 839.54,707.04 841.52,707.29 843.5,707.54 845.48,707.79 847.46,708.05 849.44,708.31 851.42,708.57 853.4,708.83 855.38,709.1 857.36,709.37 859.34,709.64 861.32,709.91 863.3,710.19 865.28,710.47 867.26,710.75 869.24,711.04 871.22,711.32 873.2,711.61 875.18,711.91 877.16,712.2 879.14,712.5 881.12,712.8 883.1,713.1" fill="none" stroke="#FF7F00" stroke-width="2.6"/>
<polyline points="764.3,711.9 766.28,714.04 768.26,715.85 770.24,717.42 772.22,718.88 774.2,720.31 776.18,721.85 778.16,723.46 780.14,725.08 782.12,726.7 784.1,728.3 786.08,729.86 788.06,731.36 790.04,732.79 792.02,734.12 794,735.37 795.98,736.58 797.96,737.74 799.94,738.87 801.92,739.96 803.9,741.02 805.88,742.06 807.86,743.08 809.84,744.07 811.82,745.05 813.8,746.01 815.78,746.97 817.76,747.92 819.74,748.88 821.72,749.82 823.7,750.77 825.68,751.71 827.66,752.65 829.64,753.58 831.62,754.5 833.6,755.42 835.58,756.34 837.56,757.25 839.54,758.15 841.52,759.05 843.5,759.93 845.48,760.82 847.46,761.69 849.44,762.56 851.42,763.42 853.4,764.28 855.38,765.12 857.36,765.96 859.34,766.79 861.32,767.61 863.3,768.42 865.28,769.22 867.26,770.01 869.24,770.8 871.22,771.57 873.2,772.34 875.18,773.09 877.16,773.83 879.14,774.57 881.12,775.29 883.1,776" fill="none" stroke="#FF7F00" stroke-width="2.6"/>
<polyline points="764.3,699.3 766.28,703.71 768.26,708.02 770.24,712.07 772.22,715.75 774.2,718.91 776.18,721.84 778.16,724.63 780.14,727.29 782.12,729.79 784.1,732.14 786.08,734.32 788.06,736.33 790.04,738.15 792.02,739.79 794,741.25 795.98,742.63 797.96,743.91 799.94,745.12 801.92,746.26 803.9,747.33 805.88,748.36 807.86,749.35 809.84,750.3 811.82,751.23 813.8,752.14 815.78,753.05 817.76,753.96 819.74,754.88 821.72,755.81 823.7,756.74 825.68,757.66 827.66,758.57 829.64,759.48 831.62,760.39 833.6,761.28 835.58,762.17 837.56,763.05 839.54,763.93 841.52,764.79 843.5,765.65 845.48,766.5 847.46,767.33 849.44,768.16 851.42,768.98 853.4,769.79 855.38,770.59 857.36,771.38 859.34,772.16 861.32,772.92 863.3,773.68 865.28,774.42 867.26,775.15 869.24,775.87 871.22,776.57 873.2,777.26 875.18,777.94 877.16,778.6 879.14,779.25 881.12,779.88 883.1,780.5" fill="none" stroke="#FF7F00" stroke-width="2.6"/>
<polyline points="764.3,698.6 766.28,705.51 768.26,715.52 770.24,726.36 772.22,735.75 774.2,741.76 776.18,746.5 778.16,750.88 780.14,754.93 782.12,758.68 784.1,762.17 786.08,765.41 788.06,768.43 790.04,771.27 792.02,773.94 794,776.49 795.98,778.93 797.96,781.29 799.94,783.61 801.92,785.9 803.9,788.21 805.88,790.54 807.86,792.84 809.84,795.09 811.82,797.3 813.8,799.45 815.78,801.55 817.76,803.58 819.74,805.55 821.72,807.44 823.7,809.26 825.68,811.01 827.66,812.66 829.64,814.23 831.62,815.71 833.6,817.09 835.58,818.37 837.56,819.62 839.54,820.85 841.52,822.08 843.5,823.28 845.48,824.47 847.46,825.64 849.44,826.78 851.42,827.89 853.4,828.98 855.38,830.03 857.36,831.05 859.34,832.03 861.32,832.97 863.3,833.87 865.28,834.73 867.26,835.54 869.24,836.3 871.22,837 873.2,837.65 875.18,838.25 877.16,838.78 879.14,839.25 881.12,839.66 883.1,840" fill="none" stroke="#FF7F00" stroke-width="2.6"/>
<polyline points="764.3,711.9 766.28,721.98 768.26,731.58 770.24,739.22 772.22,744.74 774.2,749.68 776.18,754.13 778.16,758.16 780.14,761.85 782.12,765.27 784.1,768.49 786.08,771.58 788.06,774.62 790.04,777.68 792.02,780.82 794,784.13 795.98,787.58 797.96,791 799.94,794.38 801.92,797.72 803.9,801.01 805.88,804.26 807.86,807.48 809.84,810.65 811.82,813.78 813.8,816.9 815.78,820.1 817.76,823.36 819.74,826.64 821.72,829.89 823.7,833.08 825.68,836.16 827.66,839.1 829.64,841.84 831.62,844.36 833.6,846.6 835.58,848.55 837.56,850.4 839.54,852.25 841.52,854.08 843.5,855.89 845.48,857.67 847.46,859.41 849.44,861.12 851.42,862.79 853.4,864.4 855.38,865.96 857.36,867.46 859.34,868.89 861.32,870.25 863.3,871.54 865.28,872.74 867.26,873.86 869.24,874.88 871.22,875.81 873.2,876.63 875.18,877.34 877.16,877.94 879.14,878.42 881.12,878.78 883.1,879" fill="none" stroke="#FF7F00" stroke-width="2.6"/>
<polyline points="764.3,725.8 766.28,734.42 768.26,743.24 770.24,751.75 772.22,760.24 774.2,768.62 776.18,776.76 778.16,784.58 780.14,791.95 782.12,798.76 784.1,805.07 786.08,811.12 788.06,816.92 790.04,822.49 792.02,827.81 794,832.9 795.98,837.76 797.96,842.39 799.94,846.8 801.92,850.96 803.9,854.86 805.88,858.54 807.86,862.05 809.84,865.43 811.82,868.72 813.8,871.97 815.78,875.24 817.76,878.49 819.74,881.7 821.72,884.86 823.7,887.94 825.68,890.92 827.66,893.78 829.64,896.48 831.62,899.02 833.6,901.37 835.58,903.5 837.56,905.56 839.54,907.6 841.52,909.62 843.5,911.62 845.48,913.58 847.46,915.51 849.44,917.4 851.42,919.25 853.4,921.05 855.38,922.8 857.36,924.5 859.34,926.13 861.32,927.71 863.3,929.22 865.28,930.66 867.26,932.02 869.24,933.31 871.22,934.52 873.2,935.64 875.18,936.67 877.16,937.6 879.14,938.44 881.12,939.17 883.1,939.8" fill="none" stroke="#FF7F00" stroke-width="2.6"/>
<polyline points="764.3,725.8 766.28,734.81 768.26,743.27 770.24,751.86 772.22,760.48 774.2,768.99 776.18,777.3 778.16,785.27 780.14,792.79 782.12,799.74 784.1,806.17 786.08,812.35 788.06,818.3 790.04,823.99 792.02,829.45 794,834.66 795.98,839.62 797.96,844.33 799.94,848.78 801.92,852.97 803.9,856.87 805.88,860.54 807.86,864.03 809.84,867.39 811.82,870.7 813.8,874 815.78,877.31 817.76,880.61 819.74,883.89 821.72,887.11 823.7,890.26 825.68,893.32 827.66,896.26 829.64,899.08 831.62,901.75 833.6,904.24 835.58,906.54 837.56,908.78 839.54,910.99 841.52,913.18 843.5,915.34 845.48,917.47 847.46,919.57 849.44,921.62 851.42,923.63 853.4,925.6 855.38,927.52 857.36,929.39 859.34,931.2 861.32,932.96 863.3,934.65 865.28,936.28 867.26,937.83 869.24,939.32 871.22,940.73 873.2,942.06 875.18,943.31 877.16,944.47 879.14,945.54 881.12,946.52 883.1,947.4" fill="none" stroke="#FF7F00" stroke-width="2.6"/>
<rect x="893.2" y="698.4" width="104.6" height="251" fill="#fff" stroke="#606060" stroke-width="1.4"/>
<text x="965.3" y="724.6" font-size="22.4" text-anchor="start" >nM</text>
<circle cx="925.2" cy="746.6" r="4.7" fill="#fff" stroke="#AAB2F6" stroke-width="1.8"/>
<text x="959.9" y="755.9" font-size="22.4" text-anchor="start" >1</text>
<circle cx="925.2" cy="777.53" r="4.7" fill="#fff" stroke="#7A86F2" stroke-width="1.8"/>
<text x="959.9" y="786.83" font-size="22.4" text-anchor="start" >10</text>
<circle cx="925.2" cy="808.46" r="4.7" fill="#fff" stroke="#1010E0" stroke-width="1.8"/>
<text x="959.9" y="817.76" font-size="22.4" text-anchor="start" >20</text>
<circle cx="925.2" cy="839.39" r="4.7" fill="#fff" stroke="#2A3AF0" stroke-width="1.8"/>
<text x="959.9" y="848.69" font-size="22.4" text-anchor="start" >50</text>
<circle cx="925.2" cy="870.32" r="4.7" fill="#fff" stroke="#0000C4" stroke-width="1.8"/>
<text x="959.9" y="879.62" font-size="22.4" text-anchor="start" >100</text>
<circle cx="925.2" cy="901.25" r="4.7" fill="#fff" stroke="#000090" stroke-width="1.8"/>
<text x="959.9" y="910.55" font-size="22.4" text-anchor="start" >200</text>
<circle cx="925.2" cy="932.18" r="4.7" fill="#fff" stroke="#000000" stroke-width="1.8"/>
<text x="959.9" y="941.48" font-size="22.4" text-anchor="start" >400</text>
</svg>
</body></html>
